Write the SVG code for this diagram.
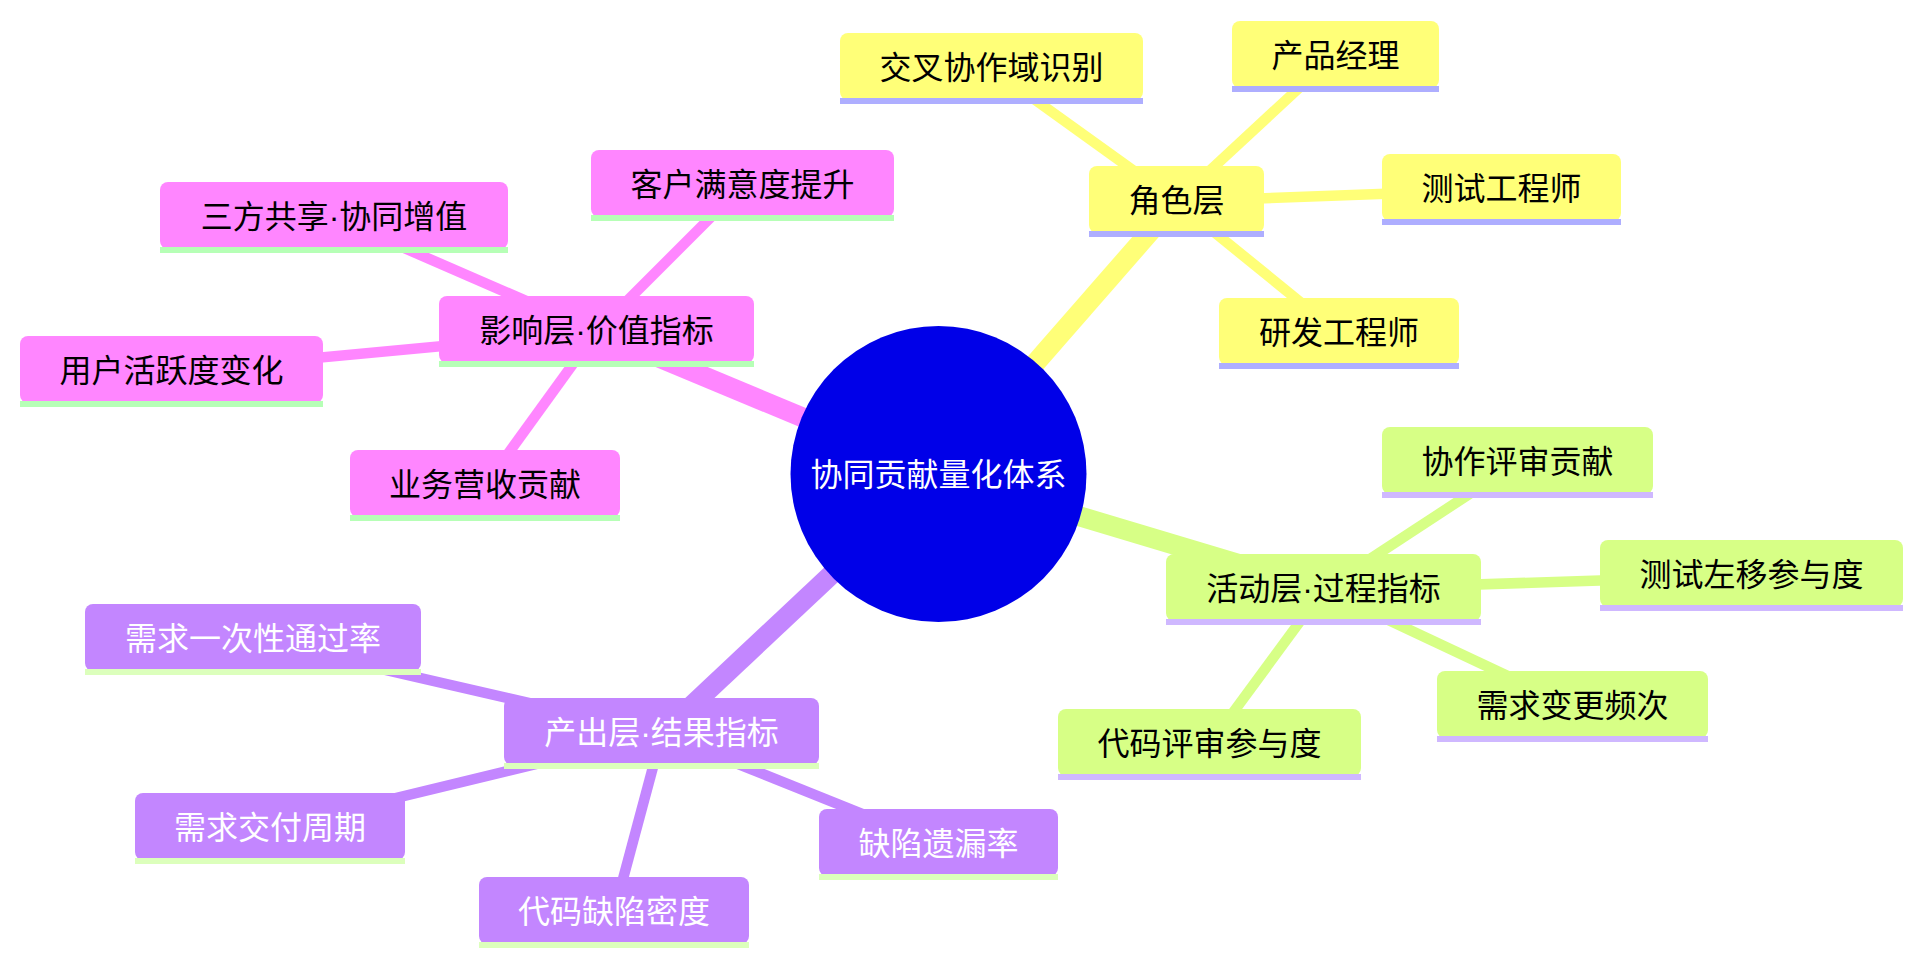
<svg xmlns="http://www.w3.org/2000/svg" width="1923" height="964" viewBox="0 0 1923 964">
<style>
  text { font-family: "Liberation Sans", "Noto Sans CJK SC", sans-serif; font-size: 32px; text-anchor: middle; }
  .e { fill: none; stroke-linecap: butt; }
  .d0 { stroke-width: 20; }
  .d1 { stroke-width: 10.5; }
  .ey { stroke: #ffff78; }
  .el { stroke: #d7ff86; }
  .ep { stroke: #c386ff; }
  .ek { stroke: #ff86ff; }
  .s1 .b { fill: #ffff78; } .s1 .u { fill: #aeaeff; } .s1 text { fill: #000000; }
  .s2 .b { fill: #d7ff86; } .s2 .u { fill: #cfb8ff; } .s2 text { fill: #000000; }
  .s3 .b { fill: #c386ff; } .s3 .u { fill: #dcffbc; } .s3 text { fill: #ffffff; }
  .s4 .b { fill: #ff86ff; } .s4 .u { fill: #b6ffb6; } .s4 text { fill: #000000; }
</style>
<rect width="1923" height="964" fill="#ffffff"/>
<g id="edges">
  <line class="e d0 ey" x1="938.5" y1="474" x2="1176.5" y2="201.5"/>
  <line class="e d0 el" x1="938.5" y1="474" x2="1323.5" y2="589.5"/>
  <line class="e d0 ep" x1="938.5" y1="474" x2="662" y2="733.5"/>
  <line class="e d0 ek" x1="938.5" y1="474" x2="596.5" y2="331.5"/>
  <line class="e d1 ey" x1="1176.5" y1="201.5" x2="991.5" y2="68.5"/>
  <line class="e d1 ey" x1="1176.5" y1="201.5" x2="1333" y2="56.5"/>
  <line class="e d1 ey" x1="1176.5" y1="201.5" x2="1502" y2="189.5"/>
  <line class="e d1 ey" x1="1176.5" y1="201.5" x2="1339" y2="333.5"/>
  <line class="e d1 el" x1="1323.5" y1="589.5" x2="1517.5" y2="462.5"/>
  <line class="e d1 el" x1="1323.5" y1="589.5" x2="1751.5" y2="575.5"/>
  <line class="e d1 el" x1="1323.5" y1="589.5" x2="1572.5" y2="706.5"/>
  <line class="e d1 el" x1="1323.5" y1="589.5" x2="1209.5" y2="744.5"/>
  <line class="e d1 ep" x1="662" y1="733.5" x2="253" y2="639.5"/>
  <line class="e d1 ep" x1="662" y1="733.5" x2="270" y2="828.5"/>
  <line class="e d1 ep" x1="662" y1="733.5" x2="614" y2="912.5"/>
  <line class="e d1 ep" x1="662" y1="733.5" x2="938.5" y2="844.5"/>
  <line class="e d1 ek" x1="596.5" y1="331.5" x2="742.5" y2="185.5"/>
  <line class="e d1 ek" x1="596.5" y1="331.5" x2="334" y2="217.5"/>
  <line class="e d1 ek" x1="596.5" y1="331.5" x2="172" y2="371.5"/>
  <line class="e d1 ek" x1="596.5" y1="331.5" x2="485" y2="485.5"/>
</g>
<g id="root">
  <circle cx="938.5" cy="474" r="148" fill="#0000e8"/>
  <text x="938.5" y="486" fill="#ffffff">协同贡献量化体系</text>
</g>
<g id="n-role" class="s1" transform="translate(1089,166)"><rect class="b" width="175" height="67" rx="8"/><rect class="u" y="65" width="175" height="6"/><text x="87.5" y="46">角色层</text></g>
<g id="n-cross" class="s1" transform="translate(840,33)"><rect class="b" width="303" height="67" rx="8"/><rect class="u" y="65" width="303" height="6"/><text x="151.5" y="46">交叉协作域识别</text></g>
<g id="n-pm" class="s1" transform="translate(1232,21)"><rect class="b" width="207" height="67" rx="8"/><rect class="u" y="65" width="207" height="6"/><text x="103.5" y="46">产品经理</text></g>
<g id="n-qa" class="s1" transform="translate(1382,154)"><rect class="b" width="239" height="67" rx="8"/><rect class="u" y="65" width="239" height="6"/><text x="119.5" y="46">测试工程师</text></g>
<g id="n-dev" class="s1" transform="translate(1219,298)"><rect class="b" width="240" height="67" rx="8"/><rect class="u" y="65" width="240" height="6"/><text x="120" y="46">研发工程师</text></g>
<g id="n-activity" class="s2" transform="translate(1166,554)"><rect class="b" width="315" height="67" rx="8"/><rect class="u" y="65" width="315" height="6"/><text x="157.5" y="46">活动层·过程指标</text></g>
<g id="n-collab-review" class="s2" transform="translate(1382,427)"><rect class="b" width="271" height="67" rx="8"/><rect class="u" y="65" width="271" height="6"/><text x="135.5" y="46">协作评审贡献</text></g>
<g id="n-shift-left" class="s2" transform="translate(1600,540)"><rect class="b" width="303" height="67" rx="8"/><rect class="u" y="65" width="303" height="6"/><text x="151.5" y="46">测试左移参与度</text></g>
<g id="n-req-change" class="s2" transform="translate(1437,671)"><rect class="b" width="271" height="67" rx="8"/><rect class="u" y="65" width="271" height="6"/><text x="135.5" y="46">需求变更频次</text></g>
<g id="n-code-review" class="s2" transform="translate(1058,709)"><rect class="b" width="303" height="67" rx="8"/><rect class="u" y="65" width="303" height="6"/><text x="151.5" y="46">代码评审参与度</text></g>
<g id="n-output" class="s3" transform="translate(504,698)"><rect class="b" width="315" height="67" rx="8"/><rect class="u" y="65" width="315" height="6"/><text x="157.5" y="46">产出层·结果指标</text></g>
<g id="n-first-pass" class="s3" transform="translate(85,604)"><rect class="b" width="336" height="67" rx="8"/><rect class="u" y="65" width="336" height="6"/><text x="168" y="46">需求一次性通过率</text></g>
<g id="n-cycle" class="s3" transform="translate(135,793)"><rect class="b" width="270" height="67" rx="8"/><rect class="u" y="65" width="270" height="6"/><text x="135" y="46">需求交付周期</text></g>
<g id="n-density" class="s3" transform="translate(479,877)"><rect class="b" width="270" height="67" rx="8"/><rect class="u" y="65" width="270" height="6"/><text x="135" y="46">代码缺陷密度</text></g>
<g id="n-escape" class="s3" transform="translate(819,809)"><rect class="b" width="239" height="67" rx="8"/><rect class="u" y="65" width="239" height="6"/><text x="119.5" y="46">缺陷遗漏率</text></g>
<g id="n-impact" class="s4" transform="translate(439,296)"><rect class="b" width="315" height="67" rx="8"/><rect class="u" y="65" width="315" height="6"/><text x="157.5" y="46">影响层·价值指标</text></g>
<g id="n-csat" class="s4" transform="translate(591,150)"><rect class="b" width="303" height="67" rx="8"/><rect class="u" y="65" width="303" height="6"/><text x="151.5" y="46">客户满意度提升</text></g>
<g id="n-share" class="s4" transform="translate(160,182)"><rect class="b" width="348" height="67" rx="8"/><rect class="u" y="65" width="348" height="6"/><text x="174" y="46">三方共享·协同增值</text></g>
<g id="n-active" class="s4" transform="translate(20,336)"><rect class="b" width="303" height="67" rx="8"/><rect class="u" y="65" width="303" height="6"/><text x="151.5" y="46">用户活跃度变化</text></g>
<g id="n-revenue" class="s4" transform="translate(350,450)"><rect class="b" width="270" height="67" rx="8"/><rect class="u" y="65" width="270" height="6"/><text x="135" y="46">业务营收贡献</text></g>
</svg>
